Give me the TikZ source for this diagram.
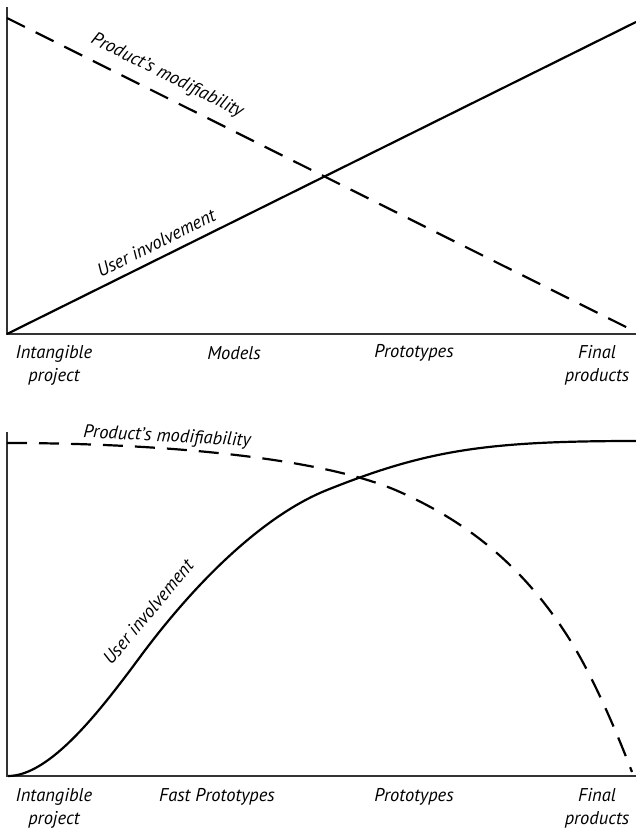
\documentclass[tikz,border=0pt]{standalone}
\usepackage{fontspec}
\setmainfont{PT Sans}
\begin{document}
\begin{tikzpicture}[x=1pt,y=-1pt,
  axis/.style={line width=1.2pt, black!80},
  curve/.style={line width=2.2pt, line cap=butt},
  dashcurve/.style={line width=2.2pt, dash pattern=on 20pt off 12pt},
  lab/.style={font=\fontsize{18.5}{23}\selectfont\itshape, align=center, inner sep=0pt},
  rlab/.style={font=\fontsize{18.5}{23}\selectfont\itshape, inner sep=0pt}
]
\useasboundingbox (0,0) rectangle (636,830);
% ---------- top chart ----------
\coordinate (tTop) at (7,7);
\coordinate (tO) at (7,334);
\coordinate (tEnd) at (636,334);
\coordinate (tSolidEnd) at (636,22);
\coordinate (tDashStart) at (7,18);
\coordinate (tDashEnd) at (636,332);
\draw[axis] (tTop) -- (tO) -- (tEnd);
\draw[curve] (tO) -- (tSolidEnd);
\draw[dashcurve] (tDashStart) -- (tDashEnd);
\node[rlab, rotate=-26.5] (tMod) at (167,76) {Product’s modifiability};
\node[rlab, rotate=26.3] (tUser) at (156,243) {User involvement};
\node[lab] (tA) at (54,365) {Intangible\\project};
\node[lab] (tB) at (234,353) {Models};
\node[lab] (tC) at (414,353) {Prototypes};
\node[lab] (tD) at (597,365) {Final\\products};
% ---------- bottom chart ----------
\coordinate (bTop) at (7,432);
\coordinate (bO) at (7,776);
\coordinate (bEnd) at (636,776);
\coordinate (bSolidStart) at (8,776);
\coordinate (bS1) at (140,657);
\coordinate (bS2) at (327,490);
\coordinate (bSolidEnd) at (636,441);
\coordinate (bDashStart) at (7,443);
\coordinate (bD1) at (400,492);
\coordinate (bD2) at (570,640);
\coordinate (bDashEnd) at (632,772);
\draw[axis] (bTop) -- (bO) -- (bEnd);
\draw[curve] (bSolidStart) .. controls (50,776) and (100,711) .. (bS1)
  .. controls (200,576) and (267,514) .. (bS2)
  .. controls (427,450) and (486,441) .. (bSolidEnd);
\draw[dashcurve] (bDashStart) .. controls (150,443) and (320,456) .. (bD1)
  .. controls (460,519) and (520,560) .. (bD2)
  .. controls (590,672) and (612,720) .. (bDashEnd);
\node[rlab, rotate=-3] (bMod) at (167,437) {Product’s modifiability};
\node[rlab, rotate=50] (bUser) at (148,612) {User involvement};
\node[lab] (bA) at (54,808) {Intangible\\project};
\node[lab] (bB) at (217,797) {Fast Prototypes};
\node[lab] (bC) at (414,797) {Prototypes};
\node[lab] (bD) at (597,808) {Final\\products};
\end{tikzpicture}
\end{document}
